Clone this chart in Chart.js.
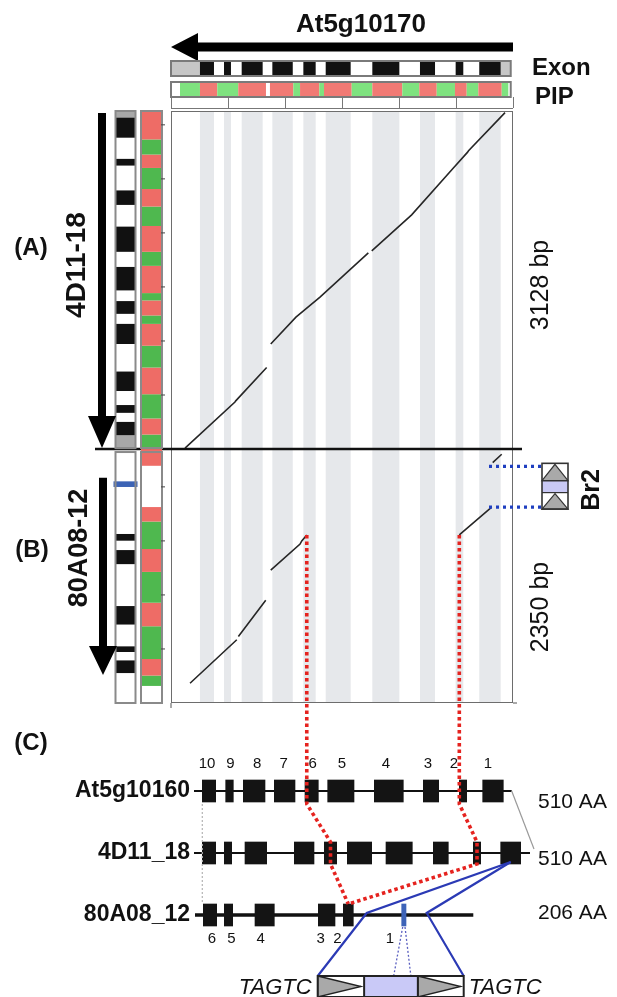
<!DOCTYPE html>
<html>
<head>
<meta charset="utf-8">
<script src="https://cdn.jsdelivr.net/npm/chart.js@4.4.1/dist/chart.umd.min.js"></script>
<style>
  html, body { margin: 0; padding: 0; background: #fff; }
  #wrap { position: relative; width: 617px; height: 997px; }
  #wrap canvas { position: absolute; left: 0; top: 0; }
</style>
</head>
<body>
<div id="wrap">
  <canvas id="dotplot" width="617" height="997"></canvas>
  <canvas id="genes" width="617" height="997"></canvas>
</div>
<script>
// ---- At5g10170 (x axis of the dot plot, bp) ----
const refLength = 2980;
const refExonStart = [254, 465, 620, 889, 1161, 1357, 1766, 2184, 2497, 2704];
const refExonEnd   = [377, 526, 804, 1068, 1269, 1576, 2003, 2316, 2564, 2892];
const refPipStart = [79, 254, 406, 590, 868, 1073, 1132, 1301, 1342, 1585, 1766, 2029, 2178, 2331, 2491, 2594, 2696, 2901];
const refPipEnd   = [254, 406, 590, 833, 1073, 1132, 1301, 1342, 1585, 1766, 2029, 2178, 2331, 2491, 2594, 2696, 2901, 2959];
const refPipClass = ['g', 'r', 'g', 'r', 'r', 'g', 'r', 'g', 'r', 'g', 'r', 'g', 'r', 'g', 'r', 'g', 'r', 'g'];
const xTicks = [0, 500, 1000, 1500, 2000, 2500, 3000];

// ---- 4D11-18 (panel A, y axis) ----
const lenA = 3128;
const exAStart = [128, 335, 537, 972, 1251, 1468, 1825, 2259, 2623, 2881];
const exAEnd   = [251, 407, 717, 1158, 1369, 1685, 2058, 2393, 2685, 3067];
const pipAStart = [0, 134, 283, 507, 754, 956, 1158, 1236, 1375, 1443, 1695, 1825, 2064, 2244, 2406, 2601, 2725, 2865];
const pipAEnd   = [134, 283, 507, 754, 956, 1158, 1236, 1375, 1443, 1695, 1825, 2064, 2244, 2406, 2601, 2725, 2865, 3128];
const pipAClass = ['g', 'r', 'g', 'r', 'g', 'r', 'g', 'r', 'g', 'r', 'g', 'r', 'g', 'r', 'g', 'r', 'g', 'r'];
const hitsA = [
  [123, 9], [561, 435], [568, 446], [839, 754], null,
  [875, 972], [1096, 1220], [1307, 1406], [1731, 1816], null,
  [1761, 1834], [2111, 2167], [2477, 2601], [2600, 2745], [2610, 2760], [2930, 3113]
];

// ---- 80A08-12 (panel B, y axis) ----
const lenB = 2350;
const geneBSpan = [2085, 260];
const exBStart = [277, 472, 726, 1285, 1502];
const exBEnd   = [394, 524, 897, 1415, 1564];
const exBInsert = [1999, 2051];
const pipBStart = [158, 254, 407, 710, 928, 1213, 1425, 1679, 2195];
const pipBEnd   = [254, 407, 710, 928, 1213, 1425, 1679, 1813, 2350];
const pipBClass = ['g', 'r', 'g', 'r', 'g', 'r', 'g', 'r', 'r'];
const br2 = [1813, 2190];
const hitsB = [
  [167, 183], [577, 585], null,
  [591, 615], [831, 951], null,
  [875, 1229], [1132, 1471], [1147, 1500], [1191, 1555], null,
  [2529, 1555], [2813, 1813], null,
  [2822, 2225], [2901, 2302]
];
const yTicks = [500, 1000, 1500, 2000, 2500, 3000];

// ---- panel C gene models (relative units) ----
const geneNames = ['At5g10160', '4D11_18', '80A08_12'];
const geneStart = [0, 0, 10];
const geneEnd = [3177, 3360, 2793];
const proteinLen = ['510 AA', '510 AA', '206 AA'];
const exStart = [
  [83, 317, 493, 803, 1110, 1337, 1803, 2293, 2653, 2887],
  [83, 303, 510, 1003, 1303, 1533, 1920, 2393, 2793, 3067],
  [93, 303, 610, 1243, 1493, 2077]
];
const exEnd = [
  [217, 393, 710, 1010, 1243, 1600, 2093, 2447, 2727, 3093],
  [217, 377, 727, 1200, 1427, 1777, 2183, 2543, 2867, 3267],
  [227, 387, 803, 1410, 1593, 2120]
];
const exNumTop = ['10', '9', '8', '7', '6', '5', '4', '3', '2', '1'];
const exNumBottom = ['6', '5', '4', '3', '2', '1'];
const insertion80 = [1727, 2327];
const splitPoints = [[1191, 1555], [2529, 1555]];
const splitExon4D = [4, 8];
const splitExon80 = 4;

const FAM = '"Liberation Sans", Arial, Helvetica, sans-serif';
const GREEN_TOP = '#7fe27f', RED_TOP = '#f17a74';
const GREEN = '#4fb84f', RED = '#ee6c66';

function label(ctx, s, x, y, font, align, rot) {
  ctx.save();
  ctx.translate(x, y);
  if (rot) ctx.rotate(rot);
  ctx.font = font;
  ctx.textAlign = align || 'center';
  ctx.textBaseline = 'middle';
  ctx.fillStyle = '#111';
  ctx.fillText(s, 0, 0);
  ctx.restore();
}

function path(ctx, pts, color, w, dash) {
  ctx.save();
  ctx.strokeStyle = color;
  ctx.lineWidth = w;
  ctx.setLineDash(dash || []);
  ctx.beginPath();
  pts.forEach((p, i) => i ? ctx.lineTo(p[0], p[1]) : ctx.moveTo(p[0], p[1]));
  ctx.stroke();
  ctx.restore();
}

function downArrow(ctx, cx, yTop, yTip, shaftW, headW, headL) {
  ctx.beginPath();
  ctx.moveTo(cx - shaftW / 2, yTop);
  ctx.lineTo(cx + shaftW / 2, yTop);
  ctx.lineTo(cx + shaftW / 2, yTip - headL);
  ctx.lineTo(cx + headW / 2, yTip - headL);
  ctx.lineTo(cx, yTip);
  ctx.lineTo(cx - headW / 2, yTip - headL);
  ctx.lineTo(cx - shaftW / 2, yTip - headL);
  ctx.closePath();
  ctx.fill();
}

// vertical blocks on a y scale (values grow upward)
function vBlocks(ctx, scale, x0, w, starts, ends, color) {
  starts.forEach((s, i) => {
    const y0 = scale.getPixelForValue(ends[i]), y1 = scale.getPixelForValue(s);
    ctx.fillStyle = typeof color === 'function' ? color(i) : color;
    ctx.fillRect(x0, y0, w, y1 - y0);
  });
}

const trackPlugin = {
  id: 'tracks',
  beforeDatasetsDraw(chart) {
    const {ctx, chartArea: a, scales: {x}} = chart;
    ctx.save();
    ctx.fillStyle = '#e6e8eb';
    refExonStart.forEach((s, i) => {
      const x0 = x.getPixelForValue(s), x1 = x.getPixelForValue(refExonEnd[i]);
      ctx.fillRect(x0, a.top, x1 - x0, a.bottom - a.top);
    });
    ctx.restore();
  },
  afterDatasetsDraw(chart) {
    const {ctx, chartArea: a, scales: {x, yA, yB}} = chart;
    const xp = v => x.getPixelForValue(v);
    ctx.save();

    // frame
    ctx.strokeStyle = '#6d6d6d';
    ctx.lineWidth = 1;
    ctx.strokeRect(a.left + 0.5, a.top + 0.5, a.right - a.left - 1, a.bottom - a.top - 1);
    path(ctx, [[a.left, a.bottom], [a.left, a.bottom + 5]], '#555', 1);
    path(ctx, [[a.right, a.bottom], [a.right + 4, a.bottom]], '#555', 1);
    const sep = yA.getPixelForValue(0);
    path(ctx, [[95, sep], [522, sep]], '#111', 2.5);

    // top gene arrow
    const tx0 = xp(0), tx1 = xp(refLength);
    ctx.fillStyle = '#000';
    ctx.beginPath();
    ctx.moveTo(tx0, 47);
    ctx.lineTo(tx0 + 27, 33);
    ctx.lineTo(tx0 + 27, 42.5);
    ctx.lineTo(xp(3000), 42.5);
    ctx.lineTo(xp(3000), 51.5);
    ctx.lineTo(tx0 + 27, 51.5);
    ctx.lineTo(tx0 + 27, 61);
    ctx.closePath();
    ctx.fill();

    // top exon track
    const eTop = 61, eH = 15;
    ctx.fillStyle = '#fff';
    ctx.fillRect(tx0, eTop, tx1 - tx0, eH);
    ctx.fillStyle = '#c6c6c6';
    const lastEnd = refExonEnd[refExonEnd.length - 1];
    ctx.fillRect(tx0, eTop, xp(refExonStart[0]) - tx0, eH);
    ctx.fillRect(xp(lastEnd), eTop, tx1 - xp(lastEnd), eH);
    ctx.fillStyle = '#111';
    refExonStart.forEach((s, i) => ctx.fillRect(xp(s), eTop, xp(refExonEnd[i]) - xp(s), eH));
    ctx.strokeStyle = '#7a7a7a';
    ctx.lineWidth = 2;
    ctx.strokeRect(tx0, eTop, tx1 - tx0, eH);

    // top PIP track
    const pTop = 82, pH = 15;
    ctx.fillStyle = '#fff';
    ctx.fillRect(tx0, pTop, tx1 - tx0, pH);
    refPipStart.forEach((s, i) => {
      ctx.fillStyle = refPipClass[i] === 'g' ? GREEN_TOP : RED_TOP;
      ctx.fillRect(xp(s), pTop, xp(refPipEnd[i]) - xp(s), pH);
    });
    ctx.strokeRect(tx0, pTop, tx1 - tx0, pH);

    // ruler
    ctx.strokeStyle = '#777';
    ctx.lineWidth = 1;
    path(ctx, [[tx0, 108.5], [xp(3000), 108.5]], '#777', 1);
    xTicks.forEach(t => path(ctx, [[Math.round(xp(t)) + 0.5, 97], [Math.round(xp(t)) + 0.5, 108]], '#777', 1));

    // left columns
    const colX = 115.5, colW = 20, pipX = 141, pipW = 21;
    const aTop = yA.getPixelForValue(lenA), aBot = yA.getPixelForValue(0);
    ctx.fillStyle = '#fff';
    ctx.fillRect(colX, aTop, colW, aBot - aTop);
    vBlocks(ctx, yA, colX, colW, [0, exAEnd[exAEnd.length - 1]], [exAStart[0], lenA], '#a8a8a8');
    vBlocks(ctx, yA, colX, colW, exAStart, exAEnd, '#111');
    vBlocks(ctx, yA, pipX, pipW, pipAStart, pipAEnd, i => pipAClass[i] === 'g' ? GREEN : RED);

    const bTop = yB.getPixelForValue(lenB), bBot = yB.getPixelForValue(0);
    ctx.fillStyle = '#fff';
    ctx.fillRect(colX, bTop + 2, colW, bBot - bTop - 2);
    ctx.fillRect(pipX, bTop + 2, pipW, bBot - bTop - 2);
    vBlocks(ctx, yB, colX, colW, exBStart, exBEnd, '#111');
    vBlocks(ctx, yB, colX - 2, colW + 4, [exBInsert[0]], [exBInsert[1]], '#3c63b5');
    vBlocks(ctx, yB, pipX, pipW, pipBStart, pipBEnd, i => pipBClass[i] === 'g' ? GREEN : RED);

    ctx.strokeStyle = '#8a8a8a';
    ctx.lineWidth = 2;
    ctx.strokeRect(colX, aTop, colW, aBot - aTop - 1);
    ctx.strokeRect(pipX, aTop, pipW, aBot - aTop - 1);
    ctx.strokeRect(colX, bTop + 3, colW, bBot - bTop - 3);
    ctx.strokeRect(pipX, bTop + 3, pipW, bBot - bTop - 3);
    yTicks.forEach(t => {
      if (t < lenA) path(ctx, [[pipX + pipW - 1, yA.getPixelForValue(t)], [pipX + pipW + 3, yA.getPixelForValue(t)]], '#444', 1);
      if (t < lenB) path(ctx, [[pipX + pipW - 1, yB.getPixelForValue(t)], [pipX + pipW + 3, yB.getPixelForValue(t)]], '#444', 1);
    });

    // orientation arrows
    ctx.fillStyle = '#000';
    downArrow(ctx, 102, aTop + 2, aBot - 1, 8, 28, 32);
    downArrow(ctx, 103, yB.getPixelForValue(geneBSpan[0]), yB.getPixelForValue(geneBSpan[1]), 8, 28, 29);

    // Br2 insertion marks
    const brTop = yB.getPixelForValue(br2[1]), brBot = yB.getPixelForValue(br2[0]);
    path(ctx, [[a.right - 24, brTop], [542, brTop]], '#1f3fc0', 3.2, [3, 4]);
    path(ctx, [[a.right - 24, brBot], [542, brBot]], '#1f3fc0', 3.2, [3, 4]);
    const bx = 542, bw = 26, by0 = brTop - 3, by1 = brBot + 2, bh = by1 - by0;
    const c1 = by0 + bh * 0.38, c2 = by0 + bh * 0.64;
    ctx.fillStyle = '#fff';
    ctx.fillRect(bx, by0, bw, bh);
    ctx.fillStyle = '#c9c9f5';
    ctx.fillRect(bx, c1, bw, c2 - c1);
    ctx.fillStyle = '#a9a9a9';
    ctx.strokeStyle = '#333';
    ctx.lineWidth = 1.2;
    [[by0, c1], [c2, by1]].forEach(([t, b]) => {
      ctx.beginPath();
      ctx.moveTo(bx + bw / 2, t + 1);
      ctx.lineTo(bx + bw, b);
      ctx.lineTo(bx, b);
      ctx.closePath();
      ctx.fill();
      ctx.stroke();
    });
    ctx.lineWidth = 1.6;
    ctx.strokeRect(bx, by0, bw, bh);
    path(ctx, [[bx, c1], [bx + bw, c1]], '#333', 1.2);
    path(ctx, [[bx, c2], [bx + bw, c2]], '#333', 1.2);

    // texts
    label(ctx, 'At5g10170', 361, 25, 'bold 26px ' + FAM);
    label(ctx, 'Exon', 532, 68, 'bold 24px ' + FAM, 'left');
    label(ctx, 'PIP', 535, 97, 'bold 24px ' + FAM, 'left');
    label(ctx, '(A)', 31, 248, 'bold 24px ' + FAM);
    label(ctx, '(B)', 32, 550, 'bold 24px ' + FAM);
    label(ctx, '4D11-18', 77, 265, 'bold 28px ' + FAM, 'center', -Math.PI / 2);
    label(ctx, '80A08-12', 80, 548, 'bold 27px ' + FAM, 'center', -Math.PI / 2);
    label(ctx, '3128 bp', 541, 285, '25px ' + FAM, 'center', -Math.PI / 2);
    label(ctx, '2350 bp', 541, 607, '25px ' + FAM, 'center', -Math.PI / 2);
    label(ctx, 'Br2', 592, 490, 'bold 25px ' + FAM, 'center', -Math.PI / 2);
    ctx.restore();
  }
};

const toPts = arr => arr.map(p => p ? {x: p[0], y: p[1]} : {x: null, y: null});

const dot = new Chart(document.getElementById('dotplot'), {
  type: 'scatter',
  data: {
    datasets: [
      { data: toPts(hitsA), yAxisID: 'yA', showLine: true, spanGaps: false,
        borderColor: '#262626', borderWidth: 1.6, pointRadius: 0 },
      { data: toPts(hitsB), yAxisID: 'yB', showLine: true, spanGaps: false,
        borderColor: '#262626', borderWidth: 1.6, pointRadius: 0 }
    ]
  },
  options: {
    responsive: false,
    animation: false,
    events: [],
    layout: { padding: { left: 171, right: 104, top: 111, bottom: 294 } },
    plugins: { legend: { display: false }, tooltip: { enabled: false } },
    scales: {
      x: { type: 'linear', min: 0, max: 3000, display: false },
      yB: { type: 'linear', position: 'left', stack: 'dp', stackWeight: lenB, min: 0, max: lenB, display: false },
      yA: { type: 'linear', position: 'left', stack: 'dp', stackWeight: lenA, min: 0, max: lenA, display: false }
    }
  },
  plugins: [trackPlugin]
});

// ---- panel C ----
const barData = [], barColors = [];
exStart.forEach((row, g) => row.forEach((s, i) => {
  barData.push({ y: geneNames[g], x: [s, exEnd[g][i]] });
  barColors.push(g === 2 && i === row.length - 1 ? '#3d63b8' : '#141414');
}));

const aaDy = [11, 6, -2];
const topNudge = [-2, 1, 3, -1, 1, 1, -3, -3, -9, -5];
const bottomNudge = [2, 3, -4, -6, -11, -14];

const genePlugin = {
  id: 'genemodels',
  beforeDatasetsDraw(chart) {
    const {ctx, scales: {x, y}} = chart;
    geneNames.forEach((g, i) => {
      const yy = y.getPixelForValue(i);
      path(ctx, [[x.getPixelForValue(geneStart[i]), yy], [x.getPixelForValue(geneEnd[i]), yy]], '#111', i === 2 ? 3.5 : 2);
    });
  },
  afterDatasetsDraw(chart) {
    const {ctx, scales: {x, y}} = chart;
    const xp = v => x.getPixelForValue(v);
    const r = [0, 1, 2].map(i => y.getPixelForValue(i));
    const half = 11;
    ctx.save();

    label(ctx, '(C)', 31, 743, 'bold 24px ' + FAM);
    geneNames.forEach((g, i) => {
      label(ctx, g, 190, r[i], 'bold 23px ' + FAM, 'right');
      label(ctx, proteinLen[i], 538, r[i] + aaDy[i], '21px ' + FAM, 'left');
    });
    exNumTop.forEach((n, i) => label(ctx, n, (xp(exStart[0][i]) + xp(exEnd[0][i])) / 2 + topNudge[i], r[0] - 27, '15px ' + FAM));
    exNumBottom.forEach((n, i) => label(ctx, n, (xp(exStart[2][i]) + xp(exEnd[2][i])) / 2 + bottomNudge[i], r[2] + 24, '15px ' + FAM));

    // grey guides
    path(ctx, [[xp(exStart[0][0]), r[0] + half + 2], [xp(exStart[0][0]), r[2] - half - 2]], '#b4b4b4', 1.2, [2, 2]);
    path(ctx, [[xp(geneEnd[0]), r[0]], [xp(geneEnd[1]) + 4, r[1] - 4]], '#9a9a9a', 1.2);

    // red split links from the dot plot through the gene models
    const dx = dot.scales.x, dyB = dot.scales.yB;
    splitPoints.forEach((p, k) => {
      const px = dx.getPixelForValue(p[0]), py = dyB.getPixelForValue(p[1]);
      const e4 = splitExon4D[k];
      const x4 = (xp(exStart[1][e4]) + xp(exEnd[1][e4])) / 2;
      const x8 = (xp(exStart[2][splitExon80]) + xp(exEnd[2][splitExon80])) / 2;
      path(ctx, [[px, py], [px, r[0] + half + 2], [x4, r[1] - half], [x4, r[1] + half], [x8, r[2] - half]],
        '#e5231f', 3.6, [3.5, 3]);
    });

    // insertion (blue)
    const apexX = (xp(exStart[1][9]) + xp(exEnd[1][9])) / 2, apexY = r[1] + 9;
    const i0 = xp(insertion80[0]), i1 = xp(insertion80[1]);
    const bxC = (i0 + i1) / 2 - 6, bw = 146, bl = bxC - bw / 2, br = bxC + bw / 2;
    const bt = r[2] + 61, bh = 21;
    path(ctx, [[apexX, apexY], [i0, r[2] - 2], [bl, bt]], '#2b3ab5', 2.2);
    path(ctx, [[apexX, apexY], [i1, r[2] - 2], [br, bt]], '#2b3ab5', 2.2);

    const cw = [bw * 0.318, bw * 0.368, bw * 0.314];
    const m0 = bl + cw[0], m1 = m0 + cw[1];
    const ex0 = xp(exStart[2][5]), ex1 = xp(exEnd[2][5]);
    path(ctx, [[ex0 + 1, r[2] + half + 1], [m0 + cw[1] * 0.55, bt]], '#5a5fc0', 1.3, [2, 2]);
    path(ctx, [[ex1 - 1, r[2] + half + 1], [m0 + cw[1] * 0.87, bt]], '#5a5fc0', 1.3, [2, 2]);

    ctx.fillStyle = '#fff';
    ctx.fillRect(bl, bt, bw, bh);
    ctx.fillStyle = '#c9c9f7';
    ctx.fillRect(m0, bt, cw[1], bh);
    ctx.fillStyle = '#a9a9a9';
    ctx.strokeStyle = '#222';
    ctx.lineWidth = 1.3;
    [[bl, m0], [m1, br]].forEach(([l, rr]) => {
      ctx.beginPath();
      ctx.moveTo(l, bt);
      ctx.lineTo(rr - 3, bt + bh / 2);
      ctx.lineTo(l, bt + bh);
      ctx.closePath();
      ctx.fill();
      ctx.stroke();
    });
    ctx.lineWidth = 2;
    ctx.strokeRect(bl, bt, bw, bh);
    path(ctx, [[m0, bt], [m0, bt + bh]], '#222', 2);
    path(ctx, [[m1, bt], [m1, bt + bh]], '#222', 2);
    label(ctx, 'TAGTC', bl - 6, bt + bh / 2 + 1, 'italic 22px ' + FAM, 'right');
    label(ctx, 'TAGTC', br + 5, bt + bh / 2 + 1, 'italic 22px ' + FAM, 'left');
    ctx.restore();
  }
};

new Chart(document.getElementById('genes'), {
  type: 'bar',
  data: {
    labels: geneNames,
    datasets: [{ data: barData, backgroundColor: barColors, borderWidth: 0, barThickness: 22, grouped: false }]
  },
  options: {
    indexAxis: 'y',
    responsive: false,
    animation: false,
    events: [],
    layout: { padding: { left: 194, right: 83, top: 760, bottom: 51 } },
    plugins: { legend: { display: false }, tooltip: { enabled: false } },
    scales: {
      x: { type: 'linear', min: 0, max: 3400, display: false },
      y: { type: 'category', display: false }
    }
  },
  plugins: [genePlugin]
});
</script>
</body>
</html>
